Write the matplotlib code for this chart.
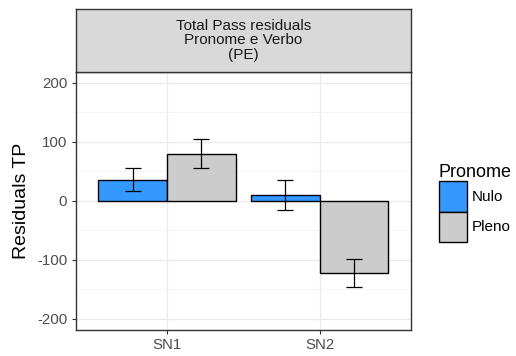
import matplotlib
matplotlib.use("Agg")
import matplotlib.pyplot as plt
import numpy as np

plt.rcParams["font.family"] = ["Liberation Sans", "DejaVu Sans"]
plt.rcParams["axes.unicode_minus"] = False

categories = ["SN1", "SN2"]
groups = ["Nulo", "Pleno"]
nulo_vals = [36, 10]
nulo_err = [20, 26]
pleno_vals = [80, -122]
pleno_err = [25, 24]
yticks = [-200, -100, 0, 100, 200]

colors = {"Nulo": "#3399FF", "Pleno": "#CCCCCC"}

fig = plt.figure(figsize=(5.16, 3.56), dpi=100)
L, R = 75.5 / 516, 411 / 516
B, T = (356 - 330) / 356, (356 - 71.5) / 356
ax = fig.add_axes([L, B, R - L, T - B])

x = np.arange(1, len(categories) + 1)
w = 0.45
for vals, errs, g, off in [(nulo_vals, nulo_err, "Nulo", -w / 2), (pleno_vals, pleno_err, "Pleno", w / 2)]:
    ax.bar(x + off, vals, width=w, color=colors[g], edgecolor="black", linewidth=1.0, label=g, zorder=3)
    ax.errorbar(x + off, vals, yerr=errs, fmt="none", ecolor="black", elinewidth=0.9,
                capsize=5.5, capthick=0.9, zorder=4)

ax.set_xlim(0.4, 2.6)
ax.set_ylim(-219, 219)
ax.set_xticks(x)
ax.set_xticklabels(categories)
ax.set_yticks(yticks)
ax.set_yticks([-150, -50, 50, 150], minor=True)
ax.grid(True, which="major", color="#EBEBEB", linewidth=1.0, zorder=0)
ax.grid(True, which="minor", axis="y", color="#F2F2F2", linewidth=0.6, zorder=0)
ax.set_axisbelow(True)
for s in ax.spines.values():
    s.set_color("#333333")
    s.set_linewidth(1.0)
ax.tick_params(axis="both", which="major", colors="#333333", labelcolor="#4D4D4D", labelsize=10.8,
               length=3, width=0.8, pad=3)
ax.tick_params(axis="y", which="minor", length=0)
ax.set_ylabel("Residuals TP", fontsize=14, color="black", labelpad=5)

# strip
sax = fig.add_axes([L, (356 - 71.5) / 356, R - L, (71.5 - 9.3) / 356])
sax.set_xticks([]); sax.set_yticks([])
sax.set_facecolor("#D9D9D9")
for s in sax.spines.values():
    s.set_color("#333333")
    s.set_linewidth(1.0)
sax.text(0.5, 0.5, "Total Pass residuals\nPronome e Verbo\n(PE)", ha="center", va="center",
         fontsize=11, color="#1A1A1A", linespacing=1.02, transform=sax.transAxes)

leg = ax.legend(title="Pronome", loc="center left", bbox_to_anchor=(1.083, 0.491), frameon=False,
                fontsize=11, title_fontsize=13, handlelength=1.83, handleheight=2.7,
                handletextpad=0.3, labelspacing=0.0, borderaxespad=0, borderpad=0)
leg._legend_box.align = "left"

fig.savefig("out.png", dpi=100)
